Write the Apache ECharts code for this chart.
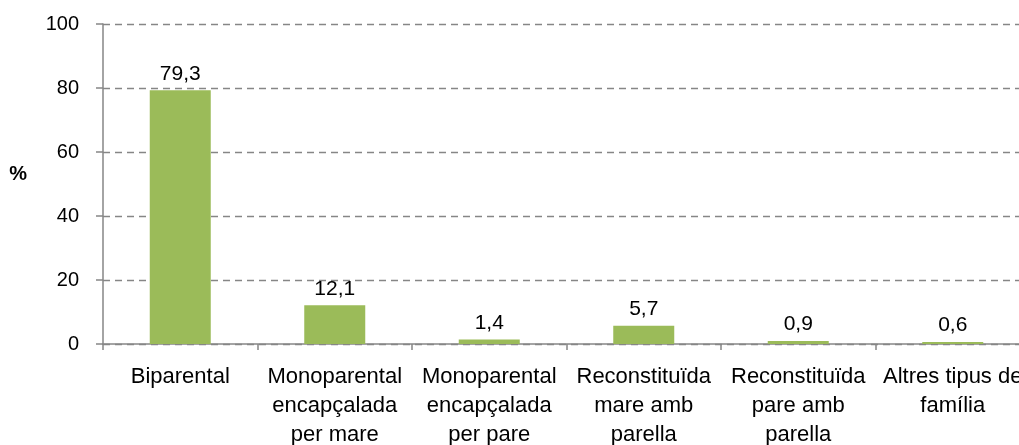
<!DOCTYPE html>
<html>
<head>
<meta charset="utf-8">
<script src="https://cdn.jsdelivr.net/npm/echarts@6/dist/echarts.min.js"></script>
<style>
  html, body { margin: 0; padding: 0; background: #fff; }
  #chart { width: 1019px; height: 445px; }
</style>
</head>
<body>
<div id="chart"></div>
<script>
// tipus de llar
const categories = [
  "Biparental",
  "Monoparental\nencapçalada\nper mare",
  "Monoparental\nencapçalada\nper pare",
  "Reconstituïda\nmare amb\nparella",
  "Reconstituïda\npare amb\nparella",
  "Altres tipus de\nfamília"
];
const values = [79.3, 12.1, 1.4, 5.7, 0.9, 0.6];
const yTicks = [0, 20, 40, 60, 80, 100];

const font = "'Liberation Sans', 'Noto Sans', sans-serif";
const axisGrey = "#868686";

let myChart = echarts.init(document.getElementById("chart"));
let option = {
  animation: false,
  grid: { left: 103, top: 24, width: 927, height: 320, outerBoundsMode: "none", containLabel: false },
  xAxis: {
    type: "category",
    data: categories,
    axisLine: { lineStyle: { color: axisGrey, width: 1.5 } },
    axisTick: { show: true, length: 6, lineStyle: { color: axisGrey, width: 1.5 } },
    axisLabel: {
      interval: 0,
      color: "#000",
      fontFamily: font,
      fontSize: 22,
      lineHeight: 29,
      margin: 18
    }
  },
  yAxis: {
    type: "value",
    min: yTicks[0],
    max: yTicks[yTicks.length - 1],
    interval: 20,
    name: "%",
    nameLocation: "middle",
    nameRotate: 0,
    nameGap: 76,
    nameTextStyle: {
      fontFamily: font, fontSize: 20, fontWeight: "bold", color: "#000",
      verticalAlign: "bottom"
    },
    axisLine: { show: true, lineStyle: { color: axisGrey, width: 1.5 } },
    axisTick: { show: true, length: 7, lineStyle: { color: axisGrey, width: 1.5 } },
    axisLabel: { color: "#000", fontFamily: font, fontSize: 20, margin: 24 },
    splitLine: { lineStyle: { color: axisGrey, type: [7, 5], width: 1.3 } }
  },
  series: [
    {
      type: "bar",
      data: values,
      barWidth: 61,
      itemStyle: { color: "#9BBB59" },
      label: {
        show: true,
        position: "top",
        distance: 6,
        color: "#000",
        fontFamily: font,
        fontSize: 21,
        formatter: (p) => p.value.toFixed(1).replace(".", ",")
      }
    }
  ]
};
myChart.setOption(option);
</script>
</body>
</html>
